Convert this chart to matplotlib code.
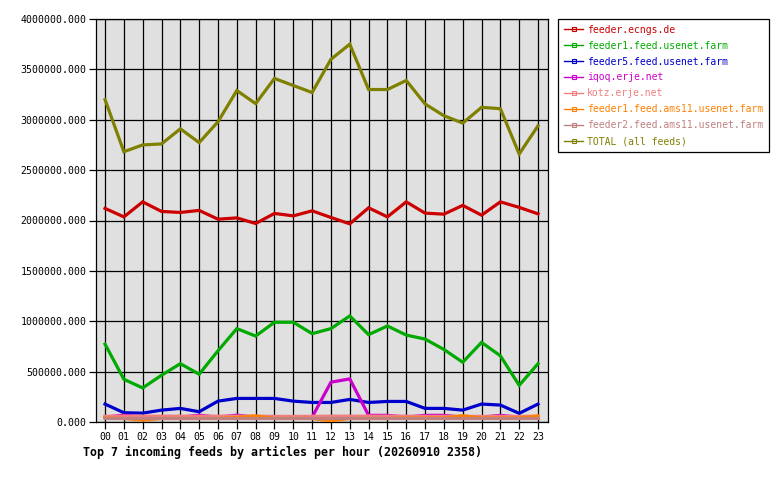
import matplotlib
matplotlib.use("Agg")
import matplotlib.pyplot as plt
from matplotlib.lines import Line2D

hours = ["00", "01", "02", "03", "04", "05", "06", "07", "08", "09", "10", "11",
         "12", "13", "14", "15", "16", "17", "18", "19", "20", "21", "22", "23"]

feeder_ecngs = [2120000, 2036000, 2185000, 2090000, 2080000, 2100000, 2013000, 2026000,
                1970000, 2070000, 2046000, 2096000, 2030000, 1967000, 2126000, 2036000,
                2185000, 2073000, 2063000, 2150000, 2053000, 2185000, 2130000, 2066000]
feeder1_usenet = [773000, 424000, 338000, 464000, 579000, 474000, 707000, 927000,
                  853000, 990000, 990000, 877000, 927000, 1053000, 867000, 953000,
                  863000, 823000, 720000, 593000, 790000, 657000, 364000, 579000]
feeder5_usenet = [178000, 92000, 88000, 118000, 135000, 102000, 207000, 234000,
                  234000, 234000, 207000, 194000, 194000, 224000, 194000, 204000,
                  204000, 135000, 135000, 118000, 178000, 168000, 86000, 178000]
iqoq = [48000, 68000, 50000, 48000, 48000, 68000, 48000, 68000,
        48000, 46000, 46000, 48000, 395000, 428000, 66000, 66000,
        48000, 66000, 66000, 48000, 48000, 66000, 48000, 48000]
kotz = [58000, 58000, 58000, 58000, 58000, 58000, 58000, 58000,
        58000, 56000, 56000, 56000, 58000, 58000, 58000, 58000,
        58000, 56000, 56000, 56000, 56000, 56000, 56000, 58000]
feeder1_ams11 = [40000, 35000, 18000, 35000, 35000, 35000, 35000, 45000,
                 60000, 35000, 35000, 35000, 10000, 35000, 35000, 35000,
                 40000, 40000, 40000, 62000, 40000, 40000, 40000, 60000]
feeder2_ams11 = [35000, 35000, 35000, 35000, 35000, 35000, 35000, 35000,
                 35000, 35000, 35000, 35000, 35000, 35000, 35000, 35000,
                 35000, 35000, 35000, 35000, 35000, 35000, 35000, 35000]
total = [3200000, 2683000, 2750000, 2760000, 2910000, 2773000, 2980000, 3290000,
         3160000, 3410000, 3340000, 3270000, 3600000, 3750000, 3300000, 3300000,
         3390000, 3157000, 3040000, 2967000, 3123000, 3110000, 2660000, 2940000]

series_names = ["feeder.ecngs.de", "feeder1.feed.usenet.farm", "feeder5.feed.usenet.farm",
                "iqoq.erje.net", "kotz.erje.net", "feeder1.feed.ams11.usenet.farm",
                "feeder2.feed.ams11.usenet.farm", "TOTAL (all feeds)"]
series_values = [feeder_ecngs, feeder1_usenet, feeder5_usenet, iqoq, kotz,
                 feeder1_ams11, feeder2_ams11, total]
colors = ["#cc0000", "#00aa00", "#0000cc", "#cc00cc", "#f08080", "#ff8000",
          "#c08080", "#808000"]

title = "Top 7 incoming feeds by articles per hour (20260910 2358)"
yticks = [0, 500000, 1000000, 1500000, 2000000, 2500000, 3000000, 3500000, 4000000]

mono = "DejaVu Sans Mono"
W, H = 780, 480
fig = plt.figure(figsize=(W / 100, H / 100), dpi=100)
ax = fig.add_axes([96 / W, 1 - 422 / H, (548 - 96) / W, (422 - 19) / H])
ax.set_facecolor("#e0e0e0")

x = list(range(len(hours)))
for name, vals, c in zip(series_names, series_values, colors):
    ax.plot(x, vals, color=c, lw=2.3, solid_joinstyle="miter", zorder=3)

ax.set_xlim(-0.48, 23.53)
ax.set_ylim(0, 4000000)
ax.set_xticks(x)
ax.set_xticklabels(hours, fontfamily=mono, fontsize=7.1)
ax.set_yticks(yticks)
ax.set_yticklabels([f"{v:.3f}" for v in yticks], fontfamily=mono, fontsize=7.1)
ax.grid(True, color="black", lw=0.9, zorder=1)
ax.set_axisbelow(True)
ax.tick_params(axis="both", direction="out", length=5, width=0.9, color="black", pad=2)
for s in ax.spines.values():
    s.set_color("black")
    s.set_linewidth(0.9)

fig.text(83 / W, 1 - 452 / H, title, fontfamily=mono, fontsize=8.35,
         fontweight="bold", va="center", ha="left")

handles = [Line2D([0], [0], color=c, lw=1, marker="s", markersize=3,
                  markerfacecolor="none", markeredgewidth=0.8) for c in colors]
leg = fig.legend(handles, series_names, loc="upper left",
                 bbox_to_anchor=(558 / W, 1 - 19 / H), borderaxespad=0,
                 prop={"family": mono, "size": 7.05}, labelcolor=colors,
                 frameon=True, fancybox=False, framealpha=1, edgecolor="black",
                 handlelength=2.0, handletextpad=0.35, labelspacing=0.6,
                 borderpad=0.6)
leg.get_frame().set_linewidth(0.9)

fig.savefig("out.png", dpi=100)
